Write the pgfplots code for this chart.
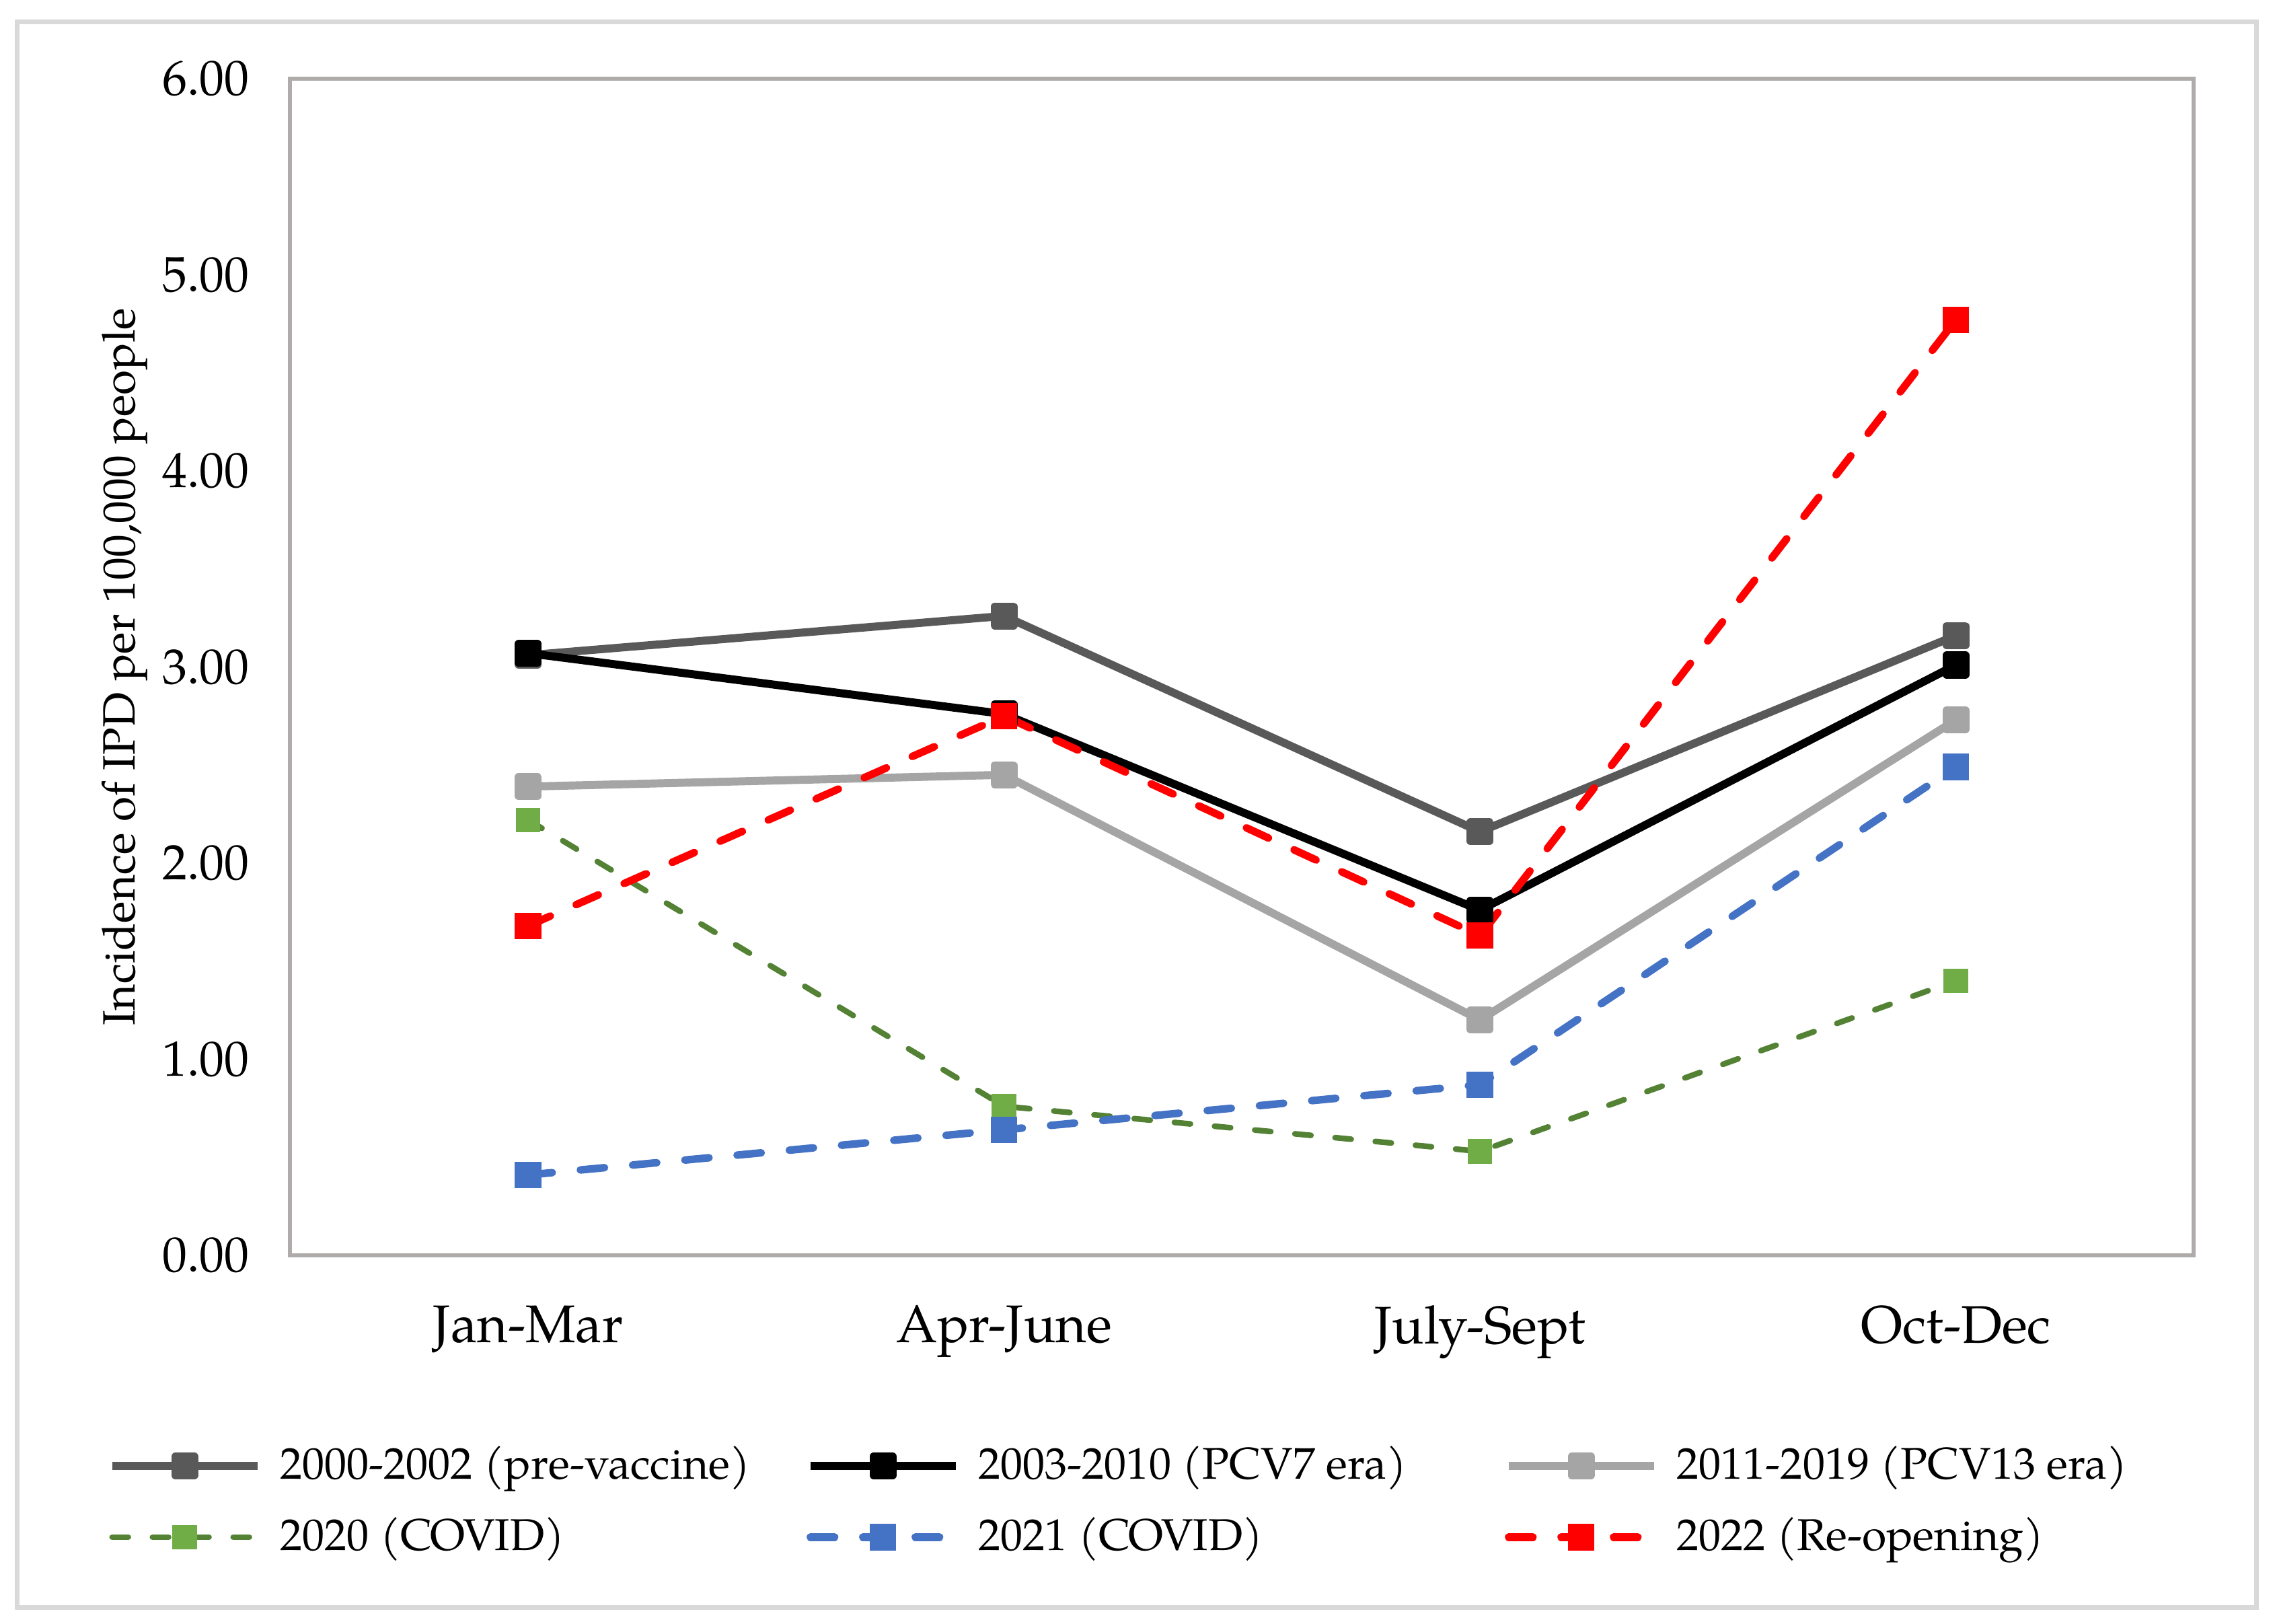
\documentclass[border=0pt]{standalone}
\usepackage{fontspec}
\setmainfont{TeX Gyre Pagella}
\usepackage{pgfplots}
\pgfplotsset{compat=1.18}
\definecolor{cdg}{HTML}{595959}
\definecolor{clg}{HTML}{A5A5A5}
\definecolor{cgl}{HTML}{548235}
\definecolor{cgm}{HTML}{70AD47}
\definecolor{cbl}{HTML}{4472C4}
\definecolor{crd}{HTML}{FF0000}
\definecolor{cframe}{HTML}{D9D9D9}
\definecolor{caxis}{HTML}{AFABAB}
\begin{document}
\begin{tikzpicture}
\useasboundingbox (-2.157,-2.74) rectangle (14.753,9.33);
\draw[cframe, line width=1pt] (-2.028,-2.62) rectangle (14.613,9.168);
\begin{axis}[
  at={(0,0)}, anchor=south west,
  scale only axis, width=14.15cm, height=8.746cm,
  xmin=-0.5, xmax=3.5, ymin=0, ymax=6,
  xtick={0,1,2,3}, xticklabels={Jan-Mar,Apr-June,July-Sept,Oct-Dec},
  ytick={0,1,2,3,4,5,6},
  yticklabel style={/pgf/number format/fixed, /pgf/number format/fixed zerofill, /pgf/number format/precision=2, /pgf/number format/assume math mode=true, font=\fontsize{10.5}{12}\selectfont, xshift=-0.18cm},
  xticklabel style={font=\fontsize{11.2}{13}\selectfont, yshift=-0.25cm},
  major tick length=0pt,
  axis line style={draw=caxis, line width=0.85pt},
  ylabel={Incidence of IPD per 100,000 people},
  every axis y label/.style={at={(axis description cs:-0.0870,0.5)}, rotate=90, anchor=center, font=\fontsize{9.6}{11}\selectfont},
  clip=false,
  legend columns=3,
  legend cell align=left,
  legend image code/.code={\draw[#1, mark repeat=2, mark phase=2] plot coordinates {(0cm,0cm) (0.54cm,0cm) (1.08cm,0cm)};},
  legend style={draw=none, fill=none, at={(0,0)}, anchor=west, xshift=-1.466cm, yshift=-1.83cm,
    font=\fontsize{9.4}{11}\selectfont, row sep=0.09cm,
    /tikz/every odd column/.append style={column sep=0.07cm},
    /tikz/every even column/.append style={column sep=0.14cm}},
  mark size=2pt,
]
\addplot[cdg, line width=1.7pt, mark=square*, mark options={fill=cdg, line join=round}] coordinates {(0,3.06) (1,3.26) (2,2.16) (3,3.16)};
\addlegendentry{\makebox[3.7cm][l]{2000-2002 (pre-vaccine)}}
\addplot[black, line width=1.7pt, mark=square*, mark options={fill=black, line join=round}] coordinates {(0,3.07) (1,2.76) (2,1.76) (3,3.01)};
\addlegendentry{\makebox[3.7cm][l]{2003-2010 (PCV7 era)}}
\addplot[clg, line width=1.7pt, mark=square*, mark options={fill=clg, line join=round}] coordinates {(0,2.39) (1,2.45) (2,1.20) (3,2.73)};
\addlegendentry{\makebox[3.7cm][l]{2011-2019 (PCV13 era)}}
\addplot[cgl, line width=1.2pt, line cap=round, dash pattern=on 0.12cm off 0.18cm, mark=square*, mark options={solid, fill=cgm, draw=cgm}] coordinates {(0,2.22) (1,0.76) (2,0.53) (3,1.40)};
\addlegendentry{\makebox[3.7cm][l]{2020 (COVID)}}
\addplot[cbl, line width=1.6pt, line cap=round, dash pattern=on 0.18cm off 0.21cm, mark=square*, mark options={solid, fill=cbl, draw=cbl}] coordinates {(0,0.41) (1,0.64) (2,0.87) (3,2.49)};
\addlegendentry{\makebox[3.7cm][l]{2021 (COVID)}}
\addplot[crd, line width=1.6pt, line cap=round, dash pattern=on 0.18cm off 0.21cm, mark=square*, mark options={solid, fill=crd, draw=crd}] coordinates {(0,1.68) (1,2.75) (2,1.63) (3,4.77)};
\addlegendentry{\makebox[3.7cm][l]{2022 (Re-opening)}}
\end{axis}
\end{tikzpicture}
\end{document}
